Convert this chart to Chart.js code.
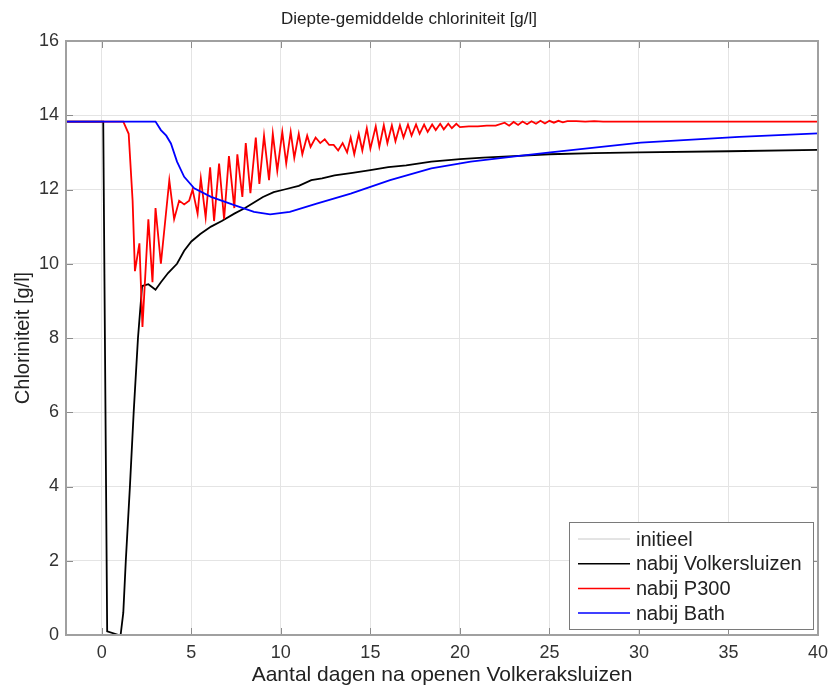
<!DOCTYPE html>
<html>
<head>
<meta charset="utf-8">
<script src="https://cdn.jsdelivr.net/npm/chart.js@4.4.1/dist/chart.umd.min.js"></script>
<style>
html, body { margin: 0; padding: 0; background: #fff; }
</style>
</head>
<body>
<canvas id="chlChart" width="829" height="686"></canvas>
<script>
// axis ticks
const xTickValues = [0, 5, 10, 15, 20, 25, 30, 35, 40];
const yTickValues = [0, 2, 4, 6, 8, 10, 12, 14, 16];

// initieel
const initX = [-2, 40];
const initY = [13.83, 13.83];

// nabij Volkersluizen
const volkX = [-2, 0.08, 0.3, 0.95, 1.05, 1.2, 1.34, 1.57, 1.78, 2.02, 2.25, 2.6, 3.0, 3.3, 3.7, 4.2, 4.6, 5.0, 5.5, 6.1, 6.7, 7.4, 8.0, 8.5, 9.0, 9.6, 10.2, 11.0, 11.7, 12.3, 13.0, 14.0, 15.0, 16.0, 17.0, 18.4, 20.0, 21.3, 23.0, 25.0, 27.5, 30, 35, 40];
const volkY = [13.83, 13.83, 0.1, 0, 0, 0.6, 2, 4, 6, 8, 9.4, 9.45, 9.3, 9.5, 9.75, 10.0, 10.35, 10.6, 10.8, 11.0, 11.15, 11.35, 11.5, 11.65, 11.8, 11.93, 12.0, 12.1, 12.25, 12.3, 12.38, 12.45, 12.52, 12.6, 12.65, 12.75, 12.82, 12.86, 12.9, 12.95, 12.98, 13.0, 13.03, 13.07];

// nabij P300
const p300X = [-2, 1.2, 1.5, 1.72, 1.85, 2.1, 2.27, 2.6, 2.83, 3.0, 3.3, 3.77, 4.04, 4.32, 4.6, 4.88, 5.07, 5.35, 5.53, 5.8, 6.05, 6.27, 6.55, 6.83, 7.1, 7.4, 7.57, 7.85, 8.04, 8.3, 8.6, 8.8, 9.06, 9.34, 9.55, 9.8, 10.08, 10.3, 10.55, 10.75, 11.0, 11.2, 11.47, 11.66, 11.94, 12.2, 12.45, 12.7, 12.95, 13.2, 13.45, 13.7, 13.9, 14.1, 14.35, 14.55, 14.8, 15.0, 15.3, 15.5, 15.75, 15.95, 16.2, 16.4, 16.65, 16.85, 17.1, 17.3, 17.55, 17.75, 18.0, 18.2, 18.45, 18.65, 18.9, 19.1, 19.35, 19.55, 19.8, 20.0, 20.5, 21, 21.5, 22, 22.5, 22.75, 23.0, 23.25, 23.5, 23.75, 24.0, 24.25, 24.5, 24.75, 25.0, 25.25, 25.5, 25.75, 26, 26.5, 27, 27.5, 28, 40];
const p300Y = [13.83, 13.83, 13.5, 11.7, 9.8, 10.55, 8.3, 11.2, 9.5, 11.5, 10.0, 12.25, 11.2, 11.7, 11.6, 11.7, 12.0, 11.35, 12.3, 11.25, 12.6, 11.15, 12.7, 11.2, 12.9, 11.5, 12.95, 11.8, 13.25, 11.9, 13.4, 12.15, 13.45, 12.25, 13.5, 12.5, 13.55, 12.7, 13.55, 12.85, 13.5, 12.95, 13.45, 13.15, 13.4, 13.25, 13.35, 13.2, 13.2, 13.05, 13.25, 13.0, 13.4, 12.95, 13.5, 13.05, 13.65, 13.1, 13.7, 13.15, 13.73, 13.25, 13.73, 13.3, 13.73, 13.4, 13.75, 13.45, 13.75, 13.5, 13.75, 13.55, 13.75, 13.6, 13.77, 13.62, 13.77, 13.65, 13.77, 13.68, 13.7, 13.7, 13.72, 13.72, 13.8, 13.72, 13.82, 13.74, 13.83, 13.76, 13.84, 13.77, 13.85, 13.78, 13.85, 13.8, 13.85, 13.81, 13.84, 13.84, 13.83, 13.84, 13.83, 13.83];

// nabij Bath
const bathX = [-2, 3.0, 3.3, 3.6, 3.86, 4.2, 4.6, 5.16, 6.1, 7.4, 8.5, 9.4, 10.5, 12.0, 13.9, 16.1, 18.4, 20.6, 23.2, 25.05, 30.1, 35.6, 40];
const bathY = [13.83, 13.83, 13.6, 13.45, 13.24, 12.75, 12.34, 12.03, 11.8, 11.58, 11.4, 11.33, 11.4, 11.62, 11.89, 12.25, 12.57, 12.75, 12.9, 13.0, 13.26, 13.42, 13.51];

const seriesLabels = ['initieel', 'nabij Volkersluizen', 'nabij P300', 'nabij Bath'];
const seriesColors = ['#c8c8c8', '#000000', '#ff0000', '#0000ff'];

function toPoints(xs, ys) {
    return xs.map((x, i) => ({ x: x, y: ys[i] }));
}

const FONT = '"Liberation Sans", Arial, sans-serif';

// MATLAB-ish box, inward ticks and legend inside the axes
const matlabBox = {
    id: 'matlabBox',
    afterDatasetsDraw(chart) {
        const { ctx, chartArea: a, scales: { x, y } } = chart;
        ctx.save();
        ctx.strokeStyle = '#8c8c8c';
        ctx.lineWidth = 1;
        xTickValues.forEach(v => {
            const px = Math.round(x.getPixelForValue(v)) + 0.5;
            ctx.beginPath();
            ctx.moveTo(px, a.bottom); ctx.lineTo(px, a.bottom - 7);
            ctx.moveTo(px, a.top); ctx.lineTo(px, a.top + 7);
            ctx.stroke();
        });
        yTickValues.forEach(v => {
            const py = Math.round(y.getPixelForValue(v)) + 0.5;
            ctx.beginPath();
            ctx.moveTo(a.left, py); ctx.lineTo(a.left + 7, py);
            ctx.moveTo(a.right, py); ctx.lineTo(a.right - 7, py);
            ctx.stroke();
        });
        ctx.strokeStyle = '#a0a0a0';
        ctx.lineWidth = 2;
        ctx.strokeRect(a.left, a.top, a.right - a.left, a.bottom - a.top);

        // legend
        const lx = 569, ly = 522, lw = 244, lh = 107;
        ctx.fillStyle = '#ffffff';
        ctx.fillRect(lx, ly, lw, lh);
        ctx.strokeStyle = '#7a7a7a';
        ctx.lineWidth = 1;
        ctx.strokeRect(lx + 0.5, ly + 0.5, lw, lh);
        ctx.font = '20px ' + FONT;
        ctx.textBaseline = 'middle';
        ctx.textAlign = 'left';
        chart.data.datasets.forEach((ds, i) => {
            const ry = ly + 17 + i * 24.7;
            ctx.strokeStyle = ds.borderColor;
            ctx.lineWidth = Math.min(ds.borderWidth, 1.5);
            ctx.beginPath();
            ctx.moveTo(578, ry); ctx.lineTo(630, ry);
            ctx.stroke();
            ctx.fillStyle = '#222';
            ctx.fillText(ds.label, 636, ry + 1);
        });
        ctx.restore();
    }
};

const datasets = [
    { xs: initX, ys: initY, w: 1, order: 4 },
    { xs: volkX, ys: volkY, w: 1.8, order: 3 },
    { xs: p300X, ys: p300Y, w: 1.8, order: 2 },
    { xs: bathX, ys: bathY, w: 1.8, order: 1 }
].map((d, i) => ({
    label: seriesLabels[i],
    data: toPoints(d.xs, d.ys),
    borderColor: seriesColors[i],
    backgroundColor: seriesColors[i],
    borderWidth: d.w,
    pointRadius: 0,
    tension: 0,
    fill: false,
    order: d.order
}));

new Chart(document.getElementById('chlChart'), {
    type: 'line',
    data: { datasets: datasets },
    options: {
        responsive: false,
        animation: false,
        layout: { padding: { left: 0, right: 11, top: 0, bottom: 0 } },
        plugins: {
            legend: { display: false },
            tooltip: { enabled: false },
            title: {
                display: true,
                text: 'Diepte-gemiddelde chloriniteit [g/l]',
                color: '#222',
                font: { family: FONT, size: 17, weight: 'normal' },
                padding: { top: 9, bottom: 11.6 }
            }
        },
        scales: {
            x: {
                type: 'linear',
                min: -2,
                max: 40,
                afterBuildTicks: s => { s.ticks = xTickValues.map(v => ({ value: v })); },
                afterFit: s => { s.height = 51; s.paddingLeft = 0; s.paddingRight = 0; },
                grid: { color: '#e4e4e4', drawTicks: false },
                border: { display: false },
                ticks: { color: '#333', padding: 7, font: { family: FONT, size: 18 } },
                title: {
                    display: true,
                    text: 'Aantal dagen na openen Volkeraksluizen',
                    color: '#222',
                    font: { family: FONT, size: 21 },
                    padding: { top: 0, bottom: -2 }
                }
            },
            y: {
                min: 0,
                max: 16,
                afterBuildTicks: s => { s.ticks = yTickValues.map(v => ({ value: v })); },
                afterFit: s => { s.width = 66; s.paddingTop = 0; s.paddingBottom = 0; },
                grid: { color: '#e4e4e4', drawTicks: false },
                border: { display: false },
                ticks: { color: '#333', padding: 7, font: { family: FONT, size: 18 } },
                title: {
                    display: true,
                    text: 'Chloriniteit [g/l]',
                    color: '#222',
                    font: { family: FONT, size: 20 },
                    padding: { top: 11, bottom: 0 }
                }
            }
        }
    },
    plugins: [matlabBox]
});
</script>
</body>
</html>
